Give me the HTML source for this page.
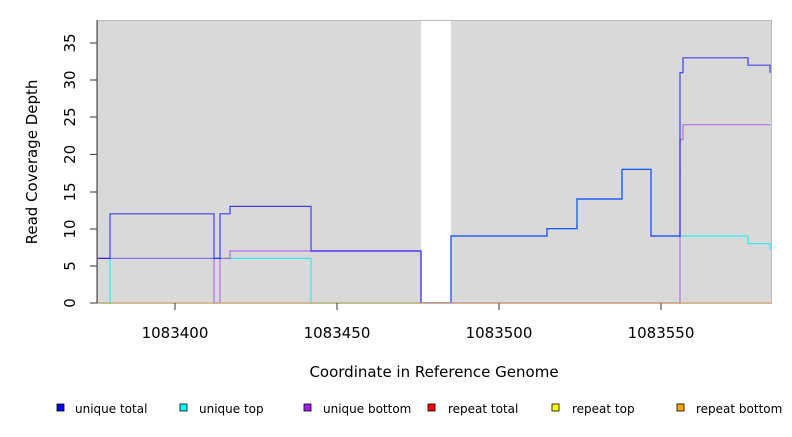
<!DOCTYPE html><html><head><style>body{margin:0;background:#fff}svg{font-family:"DejaVu Sans","Liberation Sans",sans-serif}</style></head><body>
<svg width="792" height="432" viewBox="0 0 792 432">
<rect x="97" y="20" width="674" height="283" fill="#d9d9d9"/>
<rect x="421" y="20" width="30" height="283" fill="#fff"/>
<line x1="421" y1="20.5" x2="451" y2="20.5" stroke="#555"/>
<g fill="none" stroke-width="1.2">
<path d="M97,303H110V258.4H311V303H451V236H547V228.7H577V199H622V169.3H651V236H748V243.6H770V250" stroke="#33eeee"/>
<path d="M97,258.4H214V303H220V258.4H230V251H421V303H680V139.5H683V124.7H770" stroke="#aa55ee" opacity="0.8"/>
<path d="M97,258.4H110V213.8H214V258.4H220V213.8H230V206.4H311V251H421V303H451V236H547V228.7H577V199H622V169.3H651V236H680V72.7H683V57.8H748V65.2H770V72.7" stroke="#0000ff" opacity="0.7"/>
<path d="M97,303H770" stroke="#ff9900" opacity="0.8"/>
</g>
<rect x="97.5" y="20.5" width="674" height="283" fill="none" stroke="#bbb"/>
<g stroke="#333"><line x1="97" y1="20" x2="97" y2="303"/>
<line x1="90" y1="303" x2="97" y2="303"/><line x1="90" y1="266" x2="97" y2="266"/><line x1="90" y1="229" x2="97" y2="229"/><line x1="90" y1="192" x2="97" y2="192"/><line x1="90" y1="154.4" x2="97" y2="154.4"/><line x1="90" y1="117" x2="97" y2="117"/><line x1="90" y1="80" x2="97" y2="80"/><line x1="90" y1="43" x2="97" y2="43"/>
<line x1="175" y1="303" x2="175" y2="310"/><line x1="337" y1="303" x2="337" y2="310"/><line x1="499" y1="303" x2="499" y2="310"/><line x1="661" y1="303" x2="661" y2="310"/></g>
<g font-size="15" fill="#000" text-anchor="middle">
<text transform="translate(75,303) rotate(-90)" dy="0">0</text>
<text transform="translate(75,266) rotate(-90)">5</text>
<text transform="translate(75,229) rotate(-90)">10</text>
<text transform="translate(75,192) rotate(-90)">15</text>
<text transform="translate(75,154.4) rotate(-90)">20</text>
<text transform="translate(75,117) rotate(-90)">25</text>
<text transform="translate(75,80) rotate(-90)">30</text>
<text transform="translate(75,43) rotate(-90)">35</text>
<text x="175" y="338">1083400</text><text x="337" y="338">1083450</text><text x="499" y="338">1083500</text><text x="661" y="338">1083550</text>
<text x="434" y="377">Coordinate in Reference Genome</text>
<text transform="translate(37,162) rotate(-90)">Read Coverage Depth</text>
</g>
<g font-size="12" stroke="#000" stroke-width="0.8">
<rect x="57" y="404" width="7" height="7" fill="#0000ff"/><text x="75" y="413" stroke="none">unique total</text>
<rect x="180" y="404" width="7" height="7" fill="#00ffff"/><text x="199" y="413" stroke="none">unique top</text>
<rect x="304" y="404" width="7" height="7" fill="#a020f0"/><text x="323" y="413" stroke="none">unique bottom</text>
<rect x="428" y="404" width="7" height="7" fill="#ff0000"/><text x="448" y="413" stroke="none">repeat total</text>
<rect x="552" y="404" width="7" height="7" fill="#ffff00"/><text x="572" y="413" stroke="none">repeat top</text>
<rect x="677" y="404" width="7" height="7" fill="#ffa500"/><text x="696" y="413" stroke="none">repeat bottom</text>
</g>
</svg></body></html>
